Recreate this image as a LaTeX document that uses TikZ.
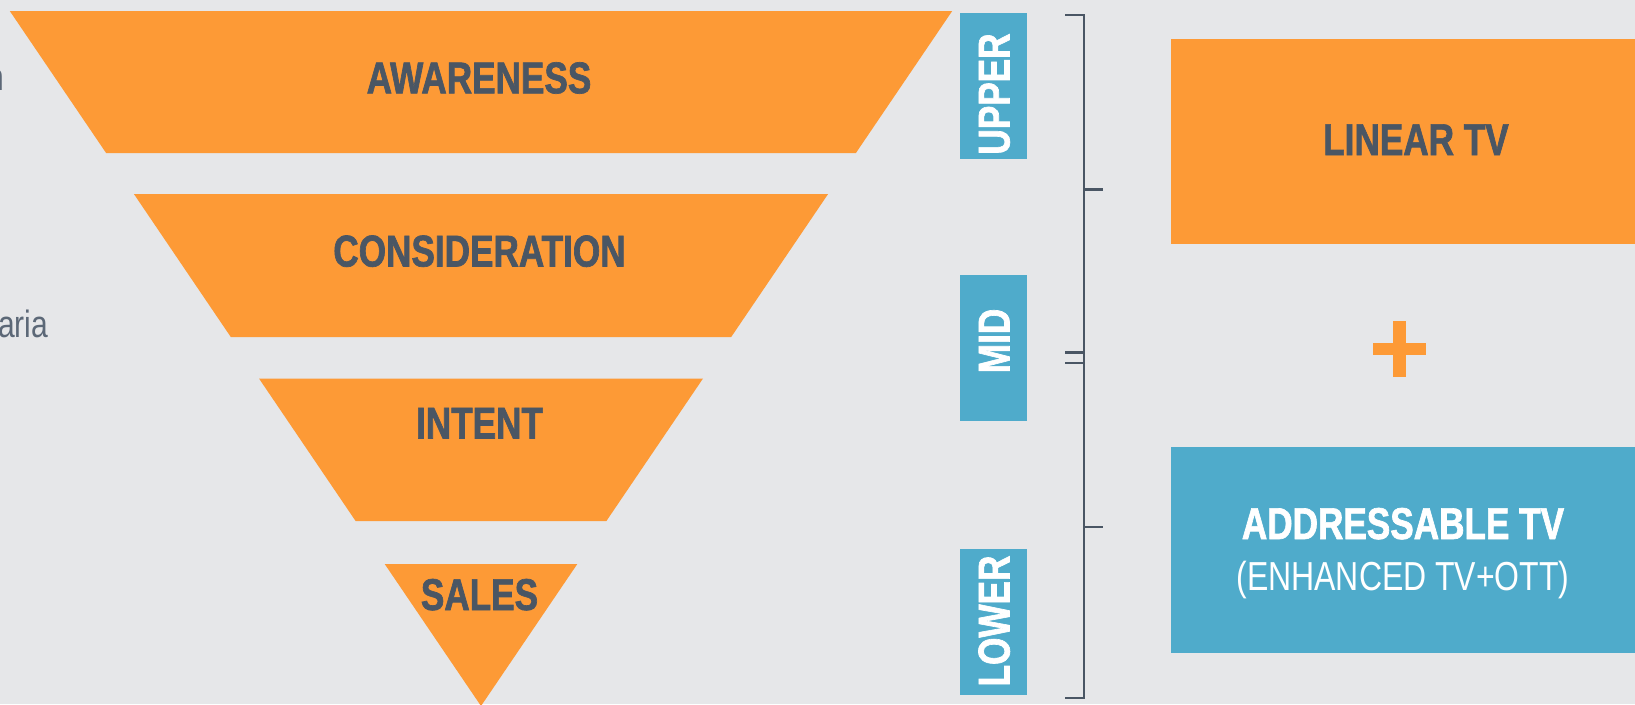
\documentclass[tikz,border=0pt]{standalone}
\usepackage{fontspec}
\setmainfont{Liberation Sans}[FakeStretch=0.79, BoldFeatures={FakeBold=1.5}]

\definecolor{pagegray}{RGB}{230,231,233}
\definecolor{funnelorange}{RGB}{253,154,54}
\definecolor{stageblue}{RGB}{79,171,203}
\definecolor{slate}{RGB}{74,86,100}
\definecolor{softslate}{RGB}{92,104,119}

\begin{document}
\begin{tikzpicture}[x=1pt, y=-1pt,
		band/.style = {fill=funnelorange},
		main/.style = {font=\bfseries\fontsize{44.5}{50}\selectfont, text=slate, anchor=base, inner sep=0pt},
		stagebox/.style = {fill=stageblue, minimum width=66.4pt, minimum height=146pt, inner sep=0pt},
		stagetext/.style = {main, text=white, rotate=90},
		side/.style = {font=\fontsize{38}{44}\selectfont, text=softslate, anchor=base east, inner sep=0pt},
		brace/.style = {draw=slate, line width=2.4pt}]
			\path[use as bounding box] (0,0) rectangle (1635,704);
			\clip (0,0) rectangle (1635,704);
			\fill[pagegray] (0,0) rectangle (1635,704);

			% text running in from the left
			\node[side] (n) at (4.5,90) {n};
			\node[side] (aria) at (48.5,337) {aria};

			% the funnel
			\fill[band] (9.8,11) -- (952.2,11) -- (855.9,153) -- (106.1,153) -- cycle;
			\fill[band] (133.9,194) -- (828.1,194) -- (731.2,337) -- (230.8,337) -- cycle;
			\fill[band] (259,378.5) -- (703,378.5) -- (606.4,521) -- (355.6,521) -- cycle;
			\fill[band] (384.7,564) -- (577.3,564) -- (481,706) -- cycle;

			\node[main] (awareness) at (479,93.3) {AWARENESS};
			\node[main] (consideration) at (479.5,266.5) {CONSIDERATION};
			\node[main] (intent) at (479.5,438.5) {INTENT};
			\node[main] (sales) at (479.5,610) {SALES};

			% stages
			\node[stagebox] (upperbox) at (993.5,86.2) {};
			\node[stagebox] (midbox) at (993.5,347.7) {};
			\node[stagebox] (lowerbox) at (993.5,621.8) {};
			\node[stagetext] (upper) at (1009.5,94) {UPPER};
			\node[stagetext] (mid) at (1009.5,341) {MID};
			\node[stagetext] (lower) at (1009.5,621) {LOWER};

			% brackets
			\draw[brace] (1065,15) -- (1084,15) -- (1084,698) -- (1065,698)
			(1065,352.5) -- (1084,352.5)
			(1065,362.8) -- (1084,362.8)
			(1084,189.5) -- (1103,189.5)
			(1084,527) -- (1103,527);

			% media
			\fill[band] (1171,39) rectangle (1640,244.3);
			\node[main] (linear) at (1416,155) {LINEAR TV};

			\fill[band] (1373.3,342.7) rectangle (1426,355);
			\fill[band] (1393.3,320.7) rectangle (1406,376.7);

			\fill[stageblue] (1171,446.7) rectangle (1640,652.7);
			\node[main, text=white] (addressable) at (1403,539) {ADDRESSABLE TV};
			\node[main, text=white, font=\fontsize{40.5}{46}\selectfont] (enhanced) at (1403,590) {(ENHANCED TV+OTT)};
		\end{tikzpicture}
\end{document}
